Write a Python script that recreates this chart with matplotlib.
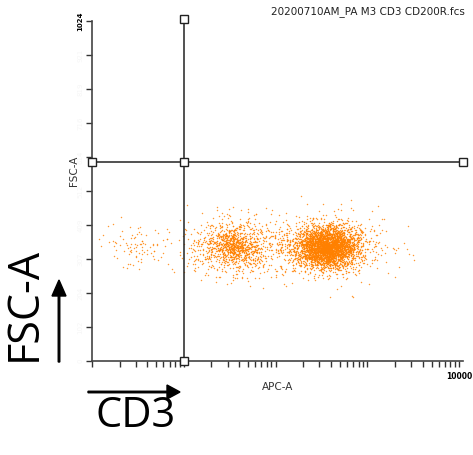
import numpy as np
import matplotlib
matplotlib.use("Agg")
import matplotlib.pyplot as plt

# event populations: (log10 APC-A centre, FSC-A centre,
# log spread, FSC spread, number of events)
pop_names = ["CD3 neg", "CD3 dim", "CD3 dim core", "CD3 bright core", "CD3 bright halo", "outliers"]
pop_x_log = [0.52, 1.55, 1.55, 2.56, 2.52, 3.45]
pop_y = [354, 344, 350, 344, 344, 325]
pop_x_sd = [0.22, 0.26, 0.12, 0.16, 0.30, 0.06]
pop_y_sd = [36, 42, 22, 30, 44, 20]
pop_n = [90, 800, 350, 2600, 1000, 5]

gate_x = 10
gate_y = 598
y_ticks = [102.4 * i for i in range(11)]
title = "20200710AM_PA M3 CD3 CD200R.fcs"
orange = "#ff8000"

rng = np.random.default_rng(7)
xs = []
ys = []
for cx, cy, sx, sy, n in zip(pop_x_log, pop_y, pop_x_sd, pop_y_sd, pop_n):
    xs.append(10 ** rng.normal(cx, sx, n))
    ys.append(rng.normal(cy, sy, n))
xs = np.concatenate(xs)
ys = np.concatenate(ys)

W, H = 473, 455
fig = plt.figure(figsize=(W / 100, H / 100), dpi=100)
ax = fig.add_axes([92 / W, (H - 361) / H, (463 - 92) / W, 340 / H])

ax.scatter(xs, ys, s=1.1, c=orange, linewidths=0, alpha=0.8)

ax.set_xscale("log")
ax.set_xlim(1, 10 ** 4.04)
ax.set_ylim(0, 1024)

for side in ["top", "right"]:
    ax.spines[side].set_visible(False)
for side in ["left", "bottom"]:
    ax.spines[side].set_color("#444444")
    ax.spines[side].set_linewidth(1.2)

ax.set_yticks(y_ticks)
ax.set_yticklabels([str(int(v)) for v in y_ticks[:-1]] + ["1024"],
                   rotation=90, va="center", fontsize=5)
for lab in ax.get_yticklabels()[:-1]:
    lab.set_color("#f6f6f6")
ax.get_yticklabels()[-1].set_fontweight("bold")
ax.tick_params(axis="y", length=4, width=1, color="#333333", pad=2)

ax.set_xticks([1, 10, 100, 1000, 10000])
ax.set_xticklabels(["", "", "", "", "10000"], fontsize=5.5, fontweight="bold")
ax.tick_params(axis="x", which="both", length=4, width=1, color="#333333", pad=4)
ax.xaxis.set_minor_formatter(plt.NullFormatter())

# gate lines with handles
ax.plot([gate_x, gate_x], [0, 1030], color="#222222", lw=1.1, clip_on=False)
ax.plot([1, 10 ** 4.04], [gate_y, gate_y], color="#222222", lw=1.1, clip_on=False)
ax.plot([gate_x, 1, gate_x, 10 ** 4.04, gate_x], [1030, gate_y, gate_y, gate_y, 0],
        ls="none", marker="s", ms=5.5, mfc="white", mec="#222222", mew=1,
        clip_on=False, zorder=5)

ax.set_xlabel("APC-A", fontsize=7.5, color="#333333", labelpad=1)
ax.set_ylabel("FSC-A", fontsize=7.5, color="#333333", labelpad=4)
ax.yaxis.set_label_coords(-0.035, 0.56)

fig.text(465 / W, 1 - 12 / H, title, ha="right", va="center", fontsize=7.5,
         color="#222222")

# big annotation labels
fig.text(24 / W, 1 - 304 / H, "FSC-A", rotation=90, ha="center", va="center",
         fontsize=31, family="Open Sans")
fig.text(136 / W, 1 - 416 / H, "CD3", ha="center", va="center",
         fontsize=30, family="Open Sans")
fig.patches.append(matplotlib.patches.FancyArrow(
    59 / W, 1 - 362 / H, 0, 82 / H, width=1.5 / H, head_width=14 / W,
    head_length=16 / H, length_includes_head=True, color="black",
    transform=fig.transFigure, figure=fig))
fig.patches.append(matplotlib.patches.FancyArrow(
    88 / W, 1 - 392 / H, 92 / W, 0, width=1.5 / H, head_width=14 / H,
    head_length=13 / W, length_includes_head=True, color="black",
    transform=fig.transFigure, figure=fig))

fig.savefig("out.png", dpi=100)
